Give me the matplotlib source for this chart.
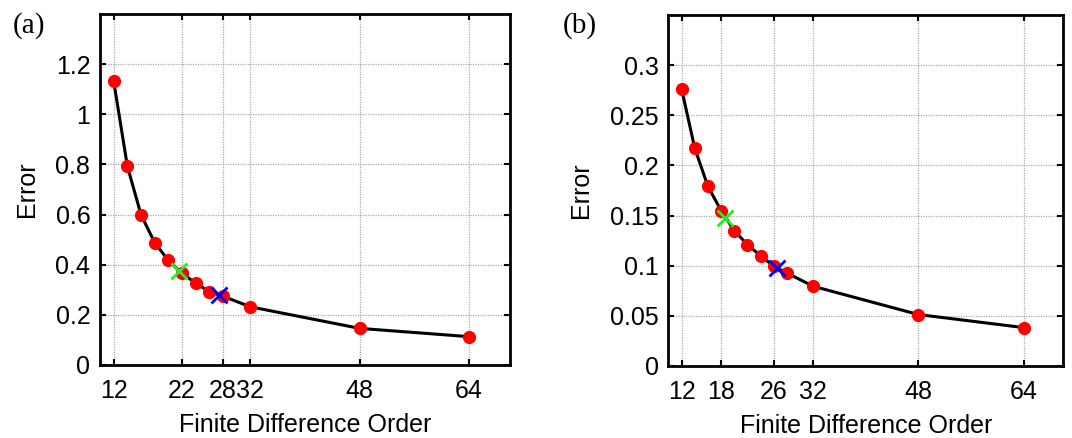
import matplotlib
matplotlib.use("Agg")
import matplotlib.pyplot as plt

plt.rcParams["font.family"] = ["Liberation Sans", "DejaVu Sans"]

# Panel (a)
order_a = [12, 14, 16, 18, 20, 22, 24, 26, 28, 32, 48, 64]
error_a = [1.132, 0.793, 0.599, 0.488, 0.417, 0.365, 0.327, 0.292, 0.274, 0.232, 0.146, 0.113]
green_a = (21.5, 0.375)
blue_a = (27.35, 0.278)
xticks_a = [12, 22, 28, 32, 48, 64]
yticks_a = [0, 0.2, 0.4, 0.6, 0.8, 1, 1.2]
yticklabels_a = ["0", "0.2", "0.4", "0.6", "0.8", "1", "1.2"]

# Panel (b)
order_b = [12, 14, 16, 18, 20, 22, 24, 26, 28, 32, 48, 64]
error_b = [0.276, 0.217, 0.179, 0.155, 0.135, 0.121, 0.110, 0.0995, 0.0928, 0.0795, 0.0513, 0.0383]
green_b = (18.6, 0.148)
blue_b = (26.57, 0.0978)
xticks_b = [12, 18, 26, 32, 48, 64]
yticks_b = [0, 0.05, 0.1, 0.15, 0.2, 0.25, 0.3]
yticklabels_b = ["0", "0.05", "0.1", "0.15", "0.2", "0.25", "0.3"]

fig = plt.figure(figsize=(10.72, 4.38), dpi=100)
ax_a = fig.add_axes([0.0933, 0.1667, 0.3825, 0.8014])
ax_b = fig.add_axes([0.6236, 0.1644, 0.368, 0.8014])


def draw(ax, x, y, green, blue, xticks, yticks, yticklabels, ylim):
    ax.plot(x, y, color="black", lw=2.2, zorder=3)
    ax.plot(x, y, "o", color="red", ms=8.5, mec="red", zorder=4)
    ax.plot(*green, "x", color="#22ee22", ms=11, mew=2, zorder=5)
    ax.plot(*blue, "x", color="blue", ms=11, mew=2, zorder=5)
    ax.set_xlim(10, 70)
    ax.set_ylim(*ylim)
    ax.set_xticks(xticks)
    ax.set_xticklabels([str(t) for t in xticks])
    ax.set_yticks(yticks)
    ax.set_yticklabels(yticklabels)
    ax.grid(True, color="#aaaaaa", linestyle=(0, (1, 1)), lw=0.9)
    ax.tick_params(direction="in", length=4, width=1.5, top=True, right=True,
                   labelsize=18)
    ax.tick_params(axis="x", pad=10)
    ax.tick_params(axis="y", pad=7)
    for s in ax.spines.values():
        s.set_linewidth(2)
    ax.set_xlabel("Finite Difference Order", fontsize=18, labelpad=7)
    ax.set_ylabel("Error", fontsize=18, labelpad=12)


draw(ax_a, order_a, error_a, green_a, blue_a, xticks_a, yticks_a, yticklabels_a, (0, 1.4))
draw(ax_b, order_b, error_b, green_b, blue_b, xticks_b, yticks_b, yticklabels_b, (0, 0.35))

fig.text(13 / 1072, 1 - 12 / 438, "(a)", family="Liberation Serif", fontsize=21, va="top")
fig.text(563 / 1072, 1 - 12 / 438, "(b)", family="Liberation Serif", fontsize=21, va="top")

fig.savefig("out.png", dpi=100)
